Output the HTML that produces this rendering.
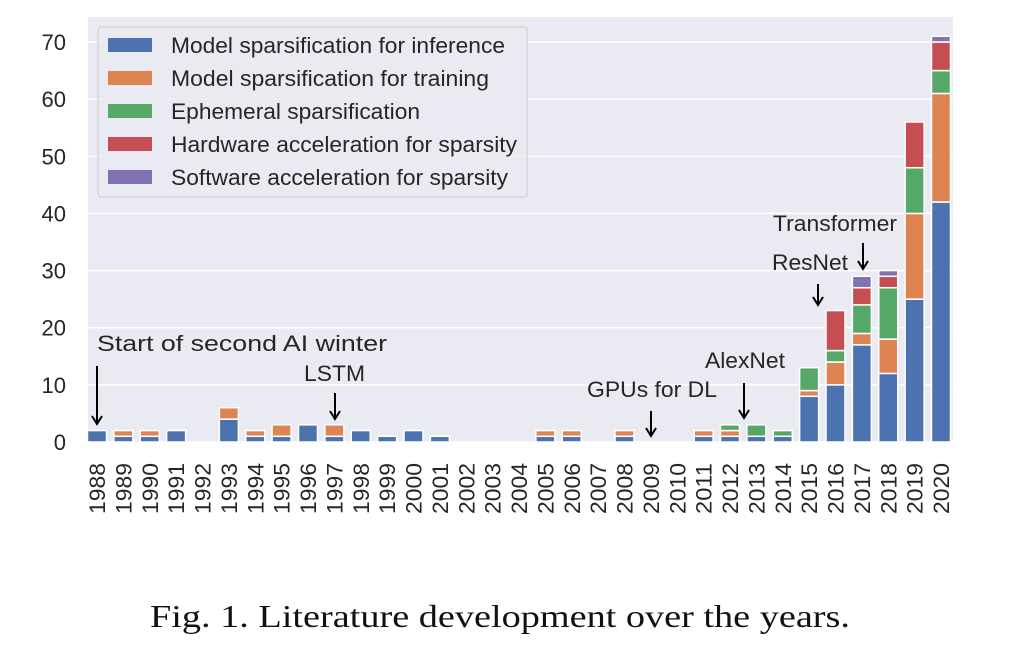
<!DOCTYPE html>
<html><head><meta charset="utf-8"><style>
body{margin:0;background:#fff;width:1035px;height:651px;overflow:hidden}
svg{display:block}
text{font-family:"Liberation Sans",sans-serif;fill:#262626}
</style></head><body>
<svg id="c" width="1035" height="651">
<rect x="88" y="17" width="865" height="425" fill="#eaeaf2"/>
<g id="grid"></g><g id="bars"></g><g id="axes"></g>
<g>
<rect x="98" y="27" width="429" height="170" rx="3" fill="#eaeaf2" stroke="#cccccc" stroke-width="1" fill-opacity="0.8"/>
<g id="leg"></g>
</g>
<g id="ann"></g>
<text x="150" y="627" textLength="700" lengthAdjust="spacingAndGlyphs" style="font-family:'Liberation Serif',serif;font-size:32px;fill:#111">Fig. 1.  Literature development over the years.</text>
</svg>
<script>
const years=[1988,1989,1990,1991,1992,1993,1994,1995,1996,1997,1998,1999,2000,2001,2002,2003,2004,2005,2006,2007,2008,2009,2010,2011,2012,2013,2014,2015,2016,2017,2018,2019,2020];
const inference=[2,1,1,2,0,4,1,1,3,1,2,1,2,1,0,0,0,1,1,0,1,0,0,1,1,1,1,8,10,17,12,25,42];
const training=[0,1,1,0,0,2,1,2,0,2,0,0,0,0,0,0,0,1,1,0,1,0,0,1,1,0,0,1,4,2,6,15,19];
const ephemeral=[0,0,0,0,0,0,0,0,0,0,0,0,0,0,0,0,0,0,0,0,0,0,0,0,1,2,1,4,2,5,9,8,4];
const hardware=[0,0,0,0,0,0,0,0,0,0,0,0,0,0,0,0,0,0,0,0,0,0,0,0,0,0,0,0,7,3,2,8,5];
const software=[0,0,0,0,0,0,0,0,0,0,0,0,0,0,0,0,0,0,0,0,0,0,0,0,0,0,0,0,0,2,1,0,1];
const yTicks=[0,10,20,30,40,50,60,70];
const seriesNames=["Model sparsification for inference","Model sparsification for training","Ephemeral sparsification","Hardware acceleration for sparsity","Software acceleration for sparsity"];
const colors=["#4c72b0","#dd8452","#55a868","#c44e52","#8172b3"];
const series=[inference,training,ephemeral,hardware,software];
const NS="http://www.w3.org/2000/svg";
const y=v=>442-v*400/70;
const x=i=>97+i*26.375;
const bw=19;
function el(t,a,p){const e=document.createElementNS(NS,t);for(const k in a)e.setAttribute(k,a[k]);document.getElementById(p).appendChild(e);return e;}
yTicks.forEach(t=>{
 const g=el('line',{x1:88,x2:953,y1:y(t),y2:y(t),stroke:'#fff','stroke-width':1.5},'grid');
 
 
 const l=el('text',{x:66,y:y(t)+8,'text-anchor':'end','font-size':22},'axes');l.textContent=t;
 
 
});
years.forEach((yr,i)=>{
 let base=0;
 series.forEach((s,k)=>{
  if(s[i]>0){
   const r=el('rect',{x:x(i)-bw/2,y:y(base+s[i]),width:bw,height:s[i]*400/70,fill:colors[k],stroke:'#fff','stroke-width':1.5},'bars');
   
   
  }
  base+=s[i];
 });
 const t=el('text',{transform:`translate(${x(i)+8},514) rotate(-90)`,'font-size':22,textLength:51,lengthAdjust:'spacingAndGlyphs'},'axes');t.textContent=yr;
 
 
});
const legW=[334,318,249,346,337];
seriesNames.forEach((n,k)=>{
 const yy=45+k*33;
 const r=el('rect',{x:108,y:yy-7,width:44,height:14,fill:colors[k]},'leg');
 
 
 const t=el('text',{x:171,y:yy+8,'font-size':22.5,textLength:legW[k],lengthAdjust:'spacingAndGlyphs'},'leg');t.textContent=n;
 
 
});
const anns=[["Start of second AI winter",97,351,290,97,366,424],["LSTM",304,381,61,335,393,419],["GPUs for DL",587,397,130,651,411,436],["AlexNet",705,368,80,744,383,418],["ResNet",772,270,76,818,284,305],["Transformer",773,231,124,863,243,269]];
anns.forEach(a=>{
 const t=el('text',{x:a[1],y:a[2],'font-size':22,textLength:a[3],lengthAdjust:'spacingAndGlyphs'},'ann');t.textContent=a[0];
 
 
 const l=el('path',{d:`M${a[4]} ${a[5]} L${a[4]} ${a[6]} M${a[4]-5} ${a[6]-8} L${a[4]} ${a[6]} L${a[4]+5} ${a[6]-8}`,stroke:'#000','stroke-width':2,fill:'none'},'ann');
 
 
});
</script>
</body></html>
